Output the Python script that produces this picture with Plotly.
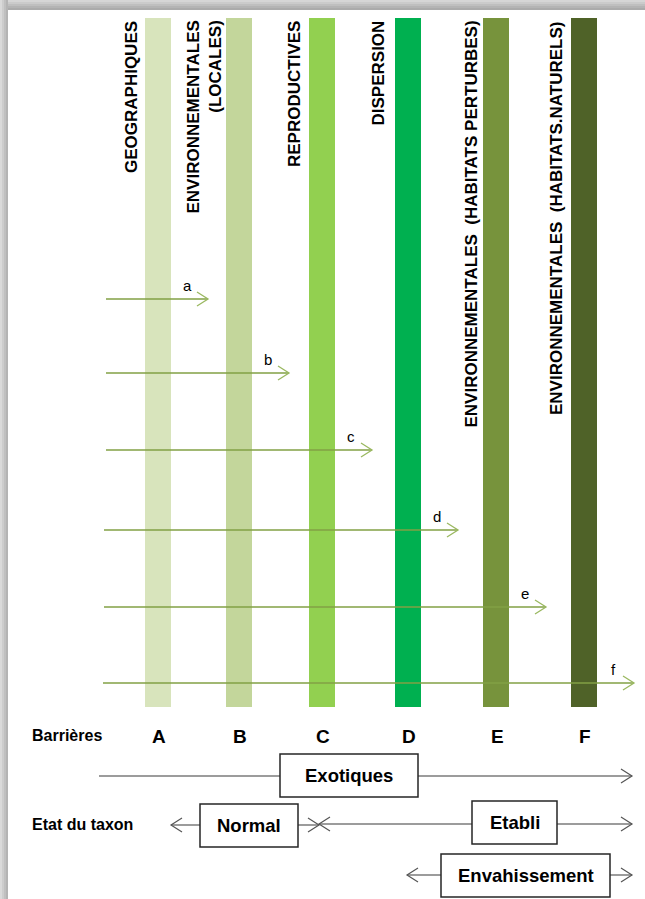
import plotly.graph_objects as go

# ---------------- data ----------------
barrier_letters = ["A", "B", "C", "D", "E", "F"]
barrier_labels = [
    "GEOGRAPHIQUES",
    "ENVIRONNEMENTALES<br>(LOCALES)",
    "REPRODUCTIVES",
    "DISPERSION",
    "ENVIRONNEMENTALES  (HABITATS PERTURBES)",
    "ENVIRONNEMENTALES  (HABITATS.NATURELS)",
]
stage_labels = ["a", "b", "c", "d", "e", "f"]
barriers_crossed = [1, 2, 3, 4, 5, 6]          # stage a crosses A, b crosses A-B, ...
state_labels = ["Exotiques", "Normal", "Etabli", "Envahissement"]
row_titles = ["Barrières", "Etat du taxon"]

# ---------------- layout constants (pixels) ----------------
W, H = 645, 899
bar_colors = ["#d8e4bc", "#c3d69b", "#92d050", "#00b050", "#77933c", "#4f6228"]
bar_center = [158, 239, 322, 408, 496, 584]
bar_half = 13
bar_top, bar_bottom = 18, 707
label_x = [131, 204, 294, 378, 471, 556]
arrow_y = [299, 373, 450, 530, 607, 683]
arrow_start = [106, 106, 106, 104, 104, 103]
arrow_overshoot = 50
head_len, head_half = 11, 7

arrow_line = "#82a044"
arrow_head = "#9ab860"
black_line = "#3a3a3a"

fig = go.Figure()
shapes = []
annotations = []

# shadow frame (gradient strips)
top_cols = ["#d6d6d6", "#cbcbcb", "#bfbfbf", "#b4b4b4", "#ababab"]
for i, c in enumerate(top_cols):
    shapes.append(dict(type="rect", xref="x", yref="y", x0=0, x1=W, y0=i * 2, y1=i * 2 + 2,
                       fillcolor=c, line=dict(width=0), layer="below"))
left_cols = ["#dadada", "#cdcdcd", "#c0c0c0", "#b4b4b4"]
for i, c in enumerate(left_cols):
    shapes.append(dict(type="rect", xref="x", yref="y", x0=i * 2, x1=i * 2 + 2, y0=0, y1=H,
                       fillcolor=c, line=dict(width=0), layer="below"))

# barrier bars
for cx, col in zip(bar_center, bar_colors):
    shapes.append(dict(type="rect", xref="x", yref="y", x0=cx - bar_half, x1=cx + bar_half,
                       y0=bar_top, y1=bar_bottom, fillcolor=col, line=dict(width=0), layer="below"))

# vertical barrier labels
for lx, txt in zip(label_x, barrier_labels):
    annotations.append(dict(x=lx, y=bar_top + 1, xref="x", yref="y", text="<b>" + txt + "</b>",
                            textangle=-90, showarrow=False, xanchor="center", yanchor="top",
                            align="right",
                            font=dict(family="Liberation Sans, Arial", size=17, color="#000000")))

# stage arrows
for lab, n, y, x0 in zip(stage_labels, barriers_crossed, arrow_y, arrow_start):
    x1 = bar_center[n - 1] + arrow_overshoot
    fig.add_trace(go.Scatter(x=[x0, x1], y=[y, y], mode="lines",
                             line=dict(color=arrow_line, width=1.3), hoverinfo="skip", showlegend=False))
    fig.add_trace(go.Scatter(x=[x1 - head_len, x1, x1 - head_len], y=[y - head_half, y, y + head_half],
                             mode="lines", line=dict(color=arrow_head, width=1.3),
                             hoverinfo="skip", showlegend=False))
    annotations.append(dict(x=x1 - 21, y=y - 14, xref="x", yref="y", text=lab, showarrow=False,
                            font=dict(family="Liberation Sans, Arial", size=15, color="#000000")))

# barrier letters & row titles
for cx, L in zip(bar_center, barrier_letters):
    annotations.append(dict(x=cx + 1, y=736, xref="x", yref="y", text="<b>" + L + "</b>", showarrow=False,
                            font=dict(family="Liberation Sans, Arial", size=19, color="#000000")))
for t, y in zip(row_titles, [735, 824]):
    annotations.append(dict(x=30, y=y, xref="x", yref="y", text="<b>" + t + "</b>", showarrow=False,
                            xanchor="left",
                            font=dict(family="Liberation Sans, Arial", size=16, color="#000000")))

# state rows: line extent, arrow tips, box
state_lines = [  # (x_left, x_right, y, left_head, right_head)
    (99, 632, 776, False, True),
    (171, 319, 825, True, True),
    (319, 632, 824, True, True),
    (407, 632, 875, True, True),
]
state_boxes = [(280, 418, 754, 797), (200, 298, 804, 847), (472, 557, 801, 844), (441, 610, 854, 897)]

for (xl, xr, y, lh, rh) in state_lines:
    fig.add_trace(go.Scatter(x=[xl, xr], y=[y, y], mode="lines", line=dict(color=black_line, width=1.2),
                             hoverinfo="skip", showlegend=False))
    if rh:
        fig.add_trace(go.Scatter(x=[xr - head_len, xr, xr - head_len], y=[y - head_half, y, y + head_half],
                                 mode="lines", line=dict(color="#555555", width=1.2),
                                 hoverinfo="skip", showlegend=False))
    if lh:
        fig.add_trace(go.Scatter(x=[xl + head_len, xl, xl + head_len], y=[y - head_half, y, y + head_half],
                                 mode="lines", line=dict(color="#555555", width=1.2),
                                 hoverinfo="skip", showlegend=False))

for (x0, x1, y0, y1), txt in zip(state_boxes, state_labels):
    shapes.append(dict(type="rect", xref="x", yref="y", x0=x0, x1=x1, y0=y0, y1=y1,
                       fillcolor="#ffffff", line=dict(color="#262626", width=1.5), layer="above"))
    annotations.append(dict(x=(x0 + x1) / 2, y=(y0 + y1) / 2, xref="x", yref="y", text="<b>" + txt + "</b>",
                            showarrow=False,
                            font=dict(family="Liberation Sans, Arial", size=18.5, color="#000000")))

fig.update_layout(
    width=W, height=H,
    margin=dict(l=0, r=0, t=0, b=0),
    paper_bgcolor="#ffffff", plot_bgcolor="#ffffff",
    xaxis=dict(range=[0, W], visible=False, fixedrange=True),
    yaxis=dict(range=[H, 0], visible=False, fixedrange=True),
    shapes=shapes, annotations=annotations, showlegend=False,
)

fig.write_html(
    "out.html",
    config={"displayModeBar": False},
    post_script="document.body.style.margin='0';document.body.style.overflow='hidden';",
)
